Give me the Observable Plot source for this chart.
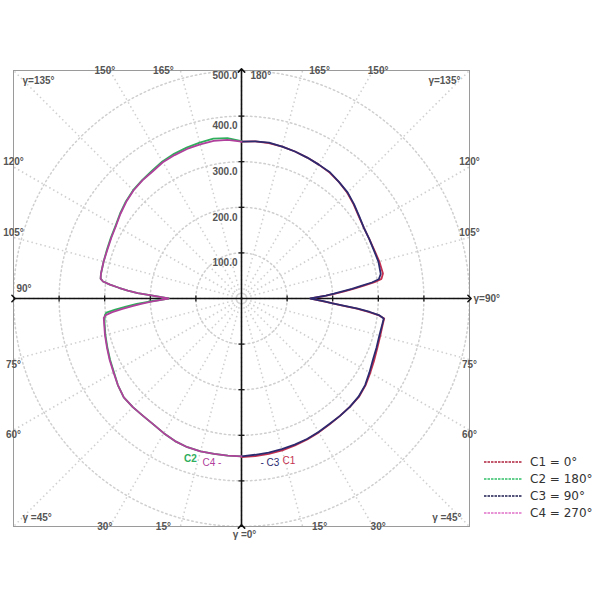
<!DOCTYPE html>
<html><head><meta charset="utf-8">
<script src="https://cdn.jsdelivr.net/npm/d3@7"></script>
<script src="https://cdn.jsdelivr.net/npm/@observablehq/plot@0.6"></script>
<style>
body{margin:0;background:#fff;}
#wrap{position:relative;width:600px;height:600px;}
#legend{position:absolute;left:484px;top:453px;font-family:"DejaVu Sans",Verdana,sans-serif;font-size:12px;color:#333;}
.row{display:flex;align-items:center;height:17px;}
.row svg{margin-right:8px;}
</style></head><body>
<div id="wrap"><div id="chart"></div><div id="legend"></div></div>
<script>
// gamma angles (degrees, 0 = down, 180 = up)
const gamma = [0,5,10,15,20,25,30,35,40,45,50,55,60,65,70,75,80,82,83,84,85,86,87,88,90,92,93,94,95,96,97,98,100,105,110,115,120,125,130,135,140,145,150,155,160,165,170,175,180];
// luminous intensity per C-plane
const c1 = [348,347,346,345,343,341,339,337,336,336,336,332,326,321,317,315,315,316,304,280,254,222,198,180,152,186,206,226,248,270,294,310,315,313,310,309,310,314,321,328,333,337,339,341,343,345,346,346,344];
const c2 = [346,346,346,347,347,345,341,337,336,337,337,331,323,318,313,309,305,303,302,298,278,254,230,205,160,198,228,250,270,290,306,312,313,313,314,316,319,325,331,336,339,342,347,350,352,354,356,353,345];
const c3 = [346,344,343,342,341,340,338,336,336,336,335,331,324,318,315,313,314,315,305,283,256,224,200,182,151,185,203,222,243,264,288,304,310,311,309,309,310,315,322,329,333,338,339,341,343,345,347,346,344];
const c4 = [346,346,346,347,347,345,341,337,336,337,337,331,324,319,314,310,306,305,300,285,262,240,218,198,160,198,228,250,270,290,306,312,313,313,313,315,318,324,330,335,338,340,345,347,349,350,351,349,344];

const seriesNames = ["C1 = 0°","C2 = 180°","C3 = 90°","C4 = 270°"];
const seriesShort = ["C1","C2","C3","C4"];
const seriesValues = [c1,c2,c3,c4];
const seriesSide = [1,-1,1,-1];
const seriesColors = ["#c42f4f","#2fae5c","#2d2b70","#b0409c"];
const legendColors = ["#b0203c","#33c06a","#1e1e50","#e070c8"];

const ringValues = [100,200,300,400,500];
const tickValues = [-400,-300,-200,-100,100,200,300,400];
const rayAngles = d3.range(0,360,15);
const sideAngles = [60,75,105,120];
const edgeAngles = [15,30,150,165];

const rad = d => d*Math.PI/180;
const K = 1000/456; // data units per pixel

const curveRows = [];
seriesValues.forEach((vals,s)=>{
  gamma.forEach((g,i)=>{
    curveRows.push({s, x: seriesSide[s]*vals[i]*Math.sin(rad(g)), y: -vals[i]*Math.cos(rad(g))});
  });
});

const ringRows = [];
ringValues.forEach(r=>{ d3.range(0,361,2).forEach(a=>ringRows.push({r, x:r*Math.sin(rad(a)), y:r*Math.cos(rad(a))})); });

// side labels (left and right edges)
const sideRows = [];
sideAngles.forEach(g=>{
  const y = -500*Math.cos(rad(g))/Math.sin(rad(g)) + (g>90 ? 5 : -5)*K;
  sideRows.push({side:-1, y, text: g+"°"});
  sideRows.push({side:1, y, text: g+"°"});
});
// top / bottom labels
const edgeRows = [];
edgeAngles.forEach(g=>{
  const up = g>90;
  const t = Math.abs(Math.tan(rad(g)));
  const off = (Math.abs(90-g)===75 ? 17 : 5)*K;
  [-1,1].forEach(side=>{
    edgeRows.push({x: side*(500*t + off), y: up?500:-500, up, text: g+"°"});
  });
});

const font = "Liberation Sans, Arial, sans-serif";
const lblFill = "#555";
const lbl = {fill:lblFill, fontFamily:font, fontSize:10, fontWeight:"bold"};

const chart = Plot.plot({
  width: 600, height: 600,
  marginLeft: 13, marginRight: 131, marginTop: 70, marginBottom: 74,
  x: {domain: [-500,500], axis: null},
  y: {domain: [-500,500], axis: null},
  style: {fontFamily: font, fontSize: "10px", background: "white", overflow: "visible"},
  marks: [
    Plot.line(ringRows, {x:"x", y:"y", z:"r", stroke:"#cfcfcf", strokeWidth:1.5, strokeDasharray:"1.5 3", clip:true}),
    Plot.link(rayAngles, {x1:0, y1:0, x2:a=>900*Math.sin(rad(a)), y2:a=>900*Math.cos(rad(a)), stroke:"#cfcfcf", strokeWidth:1.5, strokeDasharray:"1.5 3", clip:true}),
    Plot.frame({stroke:"#9a9a9a"}),
    // axes
    Plot.link([0], {x1:-500, x2:500, y1:0, y2:0, stroke:"#111", strokeWidth:1.6, markerStart:"arrow", markerEnd:"arrow"}),
    Plot.link([0], {x1:0, x2:0, y1:-500, y2:500, stroke:"#111", strokeWidth:1.6, markerStart:"arrow", markerEnd:"arrow"}),
    Plot.link(tickValues, {x1:v=>v, x2:v=>v, y1:-3*K, y2:3*K, stroke:"#111", strokeWidth:1.2}),
    Plot.link(tickValues, {y1:v=>v, y2:v=>v, x1:-3*K, x2:3*K, stroke:"#111", strokeWidth:1.2}),
    // curves
    ...[0,1,2,3].map(s => Plot.line(curveRows.filter(d=>d.s===s), {x:"x", y:"y", stroke:seriesColors[s], strokeWidth:1.8})),
    // radial value labels
    Plot.text(ringValues.filter(v=>v<500), {x:0, y:v=>v, text:v=>v.toFixed(1), textAnchor:"end", dx:-4, dy:10, ...lbl}),
    Plot.text([500], {x:0, y:v=>v, text:v=>v.toFixed(1), textAnchor:"end", dx:-4, dy:5, ...lbl}),
    // angle labels
    Plot.text(sideRows, {x:d=>d.side*500, y:"y", text:"text", textAnchor:d=>d.side<0?"start":"end", dx:0, ...lbl}),
    Plot.text(edgeRows, {x:"x", y:"y", text:"text", dy:0, ...lbl}),
    Plot.text(["180°"], {x:0, y:500, text:d=>d, textAnchor:"start", dx:9, dy:5, ...lbl}),
    Plot.text(["γ=135°"], {x:-500, y:500, text:d=>d, textAnchor:"start", dx:9, dy:10, ...lbl}),
    Plot.text(["γ=135°"], {x:500, y:500, text:d=>d, textAnchor:"end", dx:-9, dy:10, ...lbl}),
    Plot.text(["γ =45°"], {x:-500, y:-500, text:d=>d, textAnchor:"start", dx:9, dy:-9, ...lbl}),
    Plot.text(["γ =45°"], {x:500, y:-500, text:d=>d, textAnchor:"end", dx:-8, dy:-9, ...lbl}),
    Plot.text(["90°"], {x:-500, y:0, text:d=>d, textAnchor:"start", dx:3, dy:-10, ...lbl}),
    Plot.text(["γ=90°"], {x:500, y:0, text:d=>d, textAnchor:"start", dx:4, ...lbl}),
    Plot.text(["γ =0°"], {x:0, y:-500, text:d=>d, textAnchor:"middle", dx:3, dy:8, ...lbl}),
    // curve labels
    Plot.text([1], {x:-51*K, y:-160*K, text:s=>seriesShort[s], fill:seriesColors[1], fontFamily:font, fontSize:10, fontWeight:"bold"}),
    Plot.text([3], {x:-39*K, y:-164*K, text:s=>seriesShort[s]+" -", textAnchor:"start", fill:seriesColors[3], fontFamily:font, fontSize:10}),
    Plot.text([2], {x:19*K, y:-164*K, text:s=>"- "+seriesShort[s], textAnchor:"start", fill:seriesColors[2], fontFamily:font, fontSize:10}),
    Plot.text([0], {x:41*K, y:-162*K, text:s=>seriesShort[s], textAnchor:"start", fill:seriesColors[0], fontFamily:font, fontSize:10})
  ]
});
document.getElementById("chart").appendChild(chart);

// legend
const legend = d3.select("#legend");
seriesNames.forEach((name,i)=>{
  const row = legend.append("div").attr("class","row");
  const svg = row.append("svg").attr("width",38).attr("height",6);
  svg.append("line").attr("x1",0).attr("x2",38).attr("y1",3).attr("y2",3)
    .attr("stroke",legendColors[i]).attr("stroke-width",1.6).attr("stroke-dasharray","2.5 1");
  row.append("span").text(name);
});
</script>
</body></html>
